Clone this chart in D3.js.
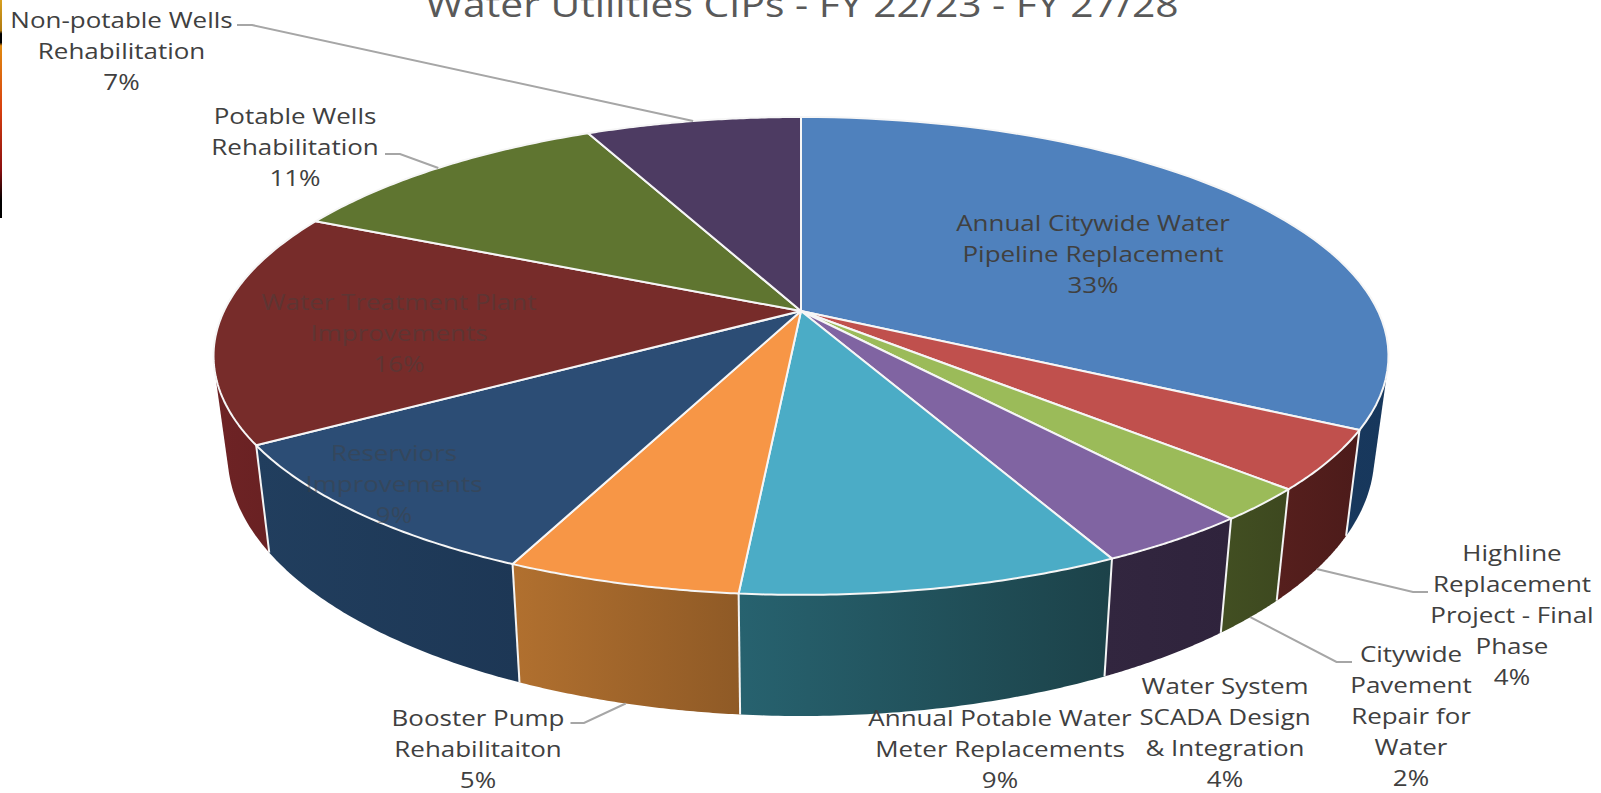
<!DOCTYPE html>
<html>
<head>
<meta charset="utf-8">
<script src="https://cdn.jsdelivr.net/npm/d3@7"></script>
<style>
  html, body { margin: 0; padding: 0; background: #fff; overflow: hidden; }
  text { font-family: "Open Sans", sans-serif; text-anchor: middle; }
  .title { font-size: 34px; fill: #595959; }
  .pie-label { font-size: 22px; fill: #404040; }
  .leader { fill: none; stroke: #a6a6a6; stroke-width: 2; }
</style>
</head>
<body>
<svg id="chart" width="1601" height="793"></svg>
<script>
////////////////////////// DATA //////////////////////////

const categories = [
  ['Annual Citywide Water', 'Pipeline Replacement'],
  ['Highline', 'Replacement', 'Project - Final', 'Phase'],
  ['Citywide', 'Pavement', 'Repair for', 'Water'],
  ['Water System', 'SCADA Design', '& Integration'],
  ['Annual Potable Water', 'Meter Replacements'],
  ['Booster Pump', 'Rehabilitaiton'],
  ['Reserviors', 'Improvements'],
  ['Water Treatment Plant', 'Improvements'],
  ['Potable Wells', 'Rehabilitation'],
  ['Non-potable Wells', 'Rehabilitation']
]

const shares = [32.8, 4.0, 2.2, 3.6, 8.8, 5.4, 9.4, 15.7, 11.0, 7.1]

const titleText = 'Water Utilities CIPs - FY 22/23 - FY 27/28'

////////////////////////// STYLE + LAYOUT //////////////////////////

const topColors = ['#4f81bd', '#c0504d', '#9bbb59', '#8064a2', '#4bacc6', '#f79646', '#2c4d75', '#772c2a', '#5f7530', '#4d3b62']
const wallLeft = ['#1a3a5e', '#561f1d', '#424f22', '#32263f', '#27626f', '#b1702f', '#213e5e', '#6e2325', '#3a4a1e', '#2e2340']
const wallRight = ['#17375c', '#4c1b1a', '#3d481f', '#2f233c', '#1c4249', '#8f5a26', '#1d3755', '#641f20', '#3a4a1e', '#2e2340']

// first line centre of each label
const labelX = [1093, 1512, 1411, 1225, 1000, 478, 394, 399, 295, 121.5]
const labelY = [223, 553, 654, 686, 718, 718, 453, 302, 116, 20.5]
const lineStep = 31
const labelStretch = 1.18
const titleStretch = 1.2

// leader elbows: [slice index, text side x, elbow x, y]
const leaders = [
  [1, 1428, 1413, 592],
  [2, 1352, 1336.5, 662],
  [5, 570.5, 584, 723],
  [8, 385, 400, 154],
  [9, 237, 252, 25]
]
const frontLeaders = [1, 2, 5]

const cx = 801, cy = 311
const radiusX = 577, radiusY = 230.5, tilt = 0.188
const depth = 95, bottomScaleX = 0.976, bottomScaleY = 1.092

////////////////////////// PROJECTION //////////////////////////

// pie angle -> point on the tilted disc, apex stays at cx, cy
const project = (angle, bottom) => {
  const x = Math.sin(angle)
  const y = -Math.cos(angle)
  const w = 1 - tilt * y
  if (bottom) return [cx + bottomScaleX * radiusX * x / w, cy + depth + bottomScaleY * radiusY * y / w]
  return [cx + radiusX * x / w, cy + radiusY * y / w]
}

const arcPoints = (a0, a1, bottom) =>
  d3.range(0, 61).map(i => project(a0 + (a1 - a0) * i / 60, bottom))

const line = d3.line()
const pieData = d3.pie().sort(null).value(d => d)(shares)

const svg = d3.select('#chart')
const defs = svg.append('defs')

////////////////////////// WALLS //////////////////////////

// only the front half of the wall can be seen
const wallFrom = Math.PI * 0.35
const wallTo = Math.PI * 1.65

const walls = pieData
  .map((d, i) => ({
    i,
    a0: Math.max(d.startAngle, wallFrom),
    a1: Math.min(d.endAngle, wallTo),
    // walls over the left/right extreme go first, their hull reaches under the neighbours
    isEnd: d.startAngle < Math.PI * 0.5 || d.endAngle > Math.PI * 1.5
  }))
  .filter(d => d.a1 > d.a0)
  .sort((a, b) => d3.descending(a.isEnd, b.isEnd))

walls.forEach(d => {
  const xs = arcPoints(d.a0, d.a1, false).concat(arcPoints(d.a0, d.a1, true)).map(p => p[0])
  const grad = defs.append('linearGradient')
    .attr('id', `wall-${d.i}`)
    .attr('gradientUnits', 'userSpaceOnUse')
    .attr('x1', d3.min(xs)).attr('x2', d3.max(xs))
    .attr('y1', 0).attr('y2', 0)
  grad.append('stop').attr('offset', 0).attr('stop-color', wallLeft[d.i])
  grad.append('stop').attr('offset', 1).attr('stop-color', wallRight[d.i])
})

// outline of the wall: hull of top and bottom rim keeps the silhouette right
svg.selectAll('.wall')
  .data(walls)
  .enter()
  .append('path')
  .attr('class', 'wall')
  .attr('d', d => {
    const pts = arcPoints(d.a0, d.a1, false).concat(arcPoints(d.a0, d.a1, true))
    return line(d3.polygonHull(pts)) + 'Z'
  })
  .style('fill', d => `url(#wall-${d.i})`)

// white seams between the front walls
svg.selectAll('.seam')
  .data(pieData.filter(d => d.startAngle > Math.PI * 0.5 && d.startAngle < Math.PI * 1.5))
  .enter()
  .append('path')
  .attr('class', 'seam')
  .attr('d', d => line([project(d.startAngle, false), project(d.startAngle, true)]))
  .style('stroke', '#f4f4f4')
  .style('stroke-width', 2)

////////////////////////// TOP FACE //////////////////////////

svg.selectAll('.slice')
  .data(pieData)
  .enter()
  .append('path')
  .attr('class', 'slice')
  .attr('d', d => line([[cx, cy]].concat(arcPoints(d.startAngle, d.endAngle, false))) + 'Z')
  .style('fill', (d, i) => topColors[i])
  .style('stroke', '#f6f6f6')
  .style('stroke-width', 2)
  .style('stroke-linejoin', 'round')

////////////////////////// LEADERS //////////////////////////

svg.selectAll('.leader')
  .data(leaders)
  .enter()
  .append('path')
  .attr('class', 'leader')
  .attr('d', d => {
    const slice = pieData[d[0]]
    const mid = (slice.startAngle + slice.endAngle) / 2
    return line([[d[1], d[3]], [d[2], d[3]], project(mid, frontLeaders.includes(d[0]))])
  })

////////////////////////// TEXT //////////////////////////

// the source text is stretched sideways, so scale x only
svg.append('text')
  .attr('class', 'title')
  .attr('transform', `translate(802,17) scale(${titleStretch},1)`)
  .text(titleText)

categories.forEach((lines, i) => {
  const allLines = lines.concat(`${Math.round(shares[i])}%`)
  svg.selectAll(null)
    .data(allLines)
    .enter()
    .append('text')
    .attr('class', 'pie-label')
    .attr('transform', (d, k) => `translate(${labelX[i]},${labelY[i] + k * lineStep}) scale(${labelStretch},1)`)
    .attr('dy', '0.35em')
    .style('opacity', (i === 6 || i === 7) ? 0.45 : 1)
    .text(d => d)
})

// strip at the left edge of the source picture
const stripStops = [
  [0, '#d8a020'], [0.14, '#b07a10'], [0.155, '#000'], [0.195, '#000'], [0.21, '#e08a10'],
  [0.5, '#d8400f'], [0.78, '#8a0f10'], [0.92, '#000'], [1, '#000']
]
const strip = defs.append('linearGradient')
  .attr('id', 'strip')
  .attr('x1', 0).attr('x2', 0).attr('y1', 0).attr('y2', 1)
stripStops.forEach(s => strip.append('stop').attr('offset', s[0]).attr('stop-color', s[1]))
svg.append('rect')
  .attr('x', 0).attr('y', 0)
  .attr('width', 2).attr('height', 218)
  .style('fill', 'url(#strip)')
</script>
</body>
</html>
